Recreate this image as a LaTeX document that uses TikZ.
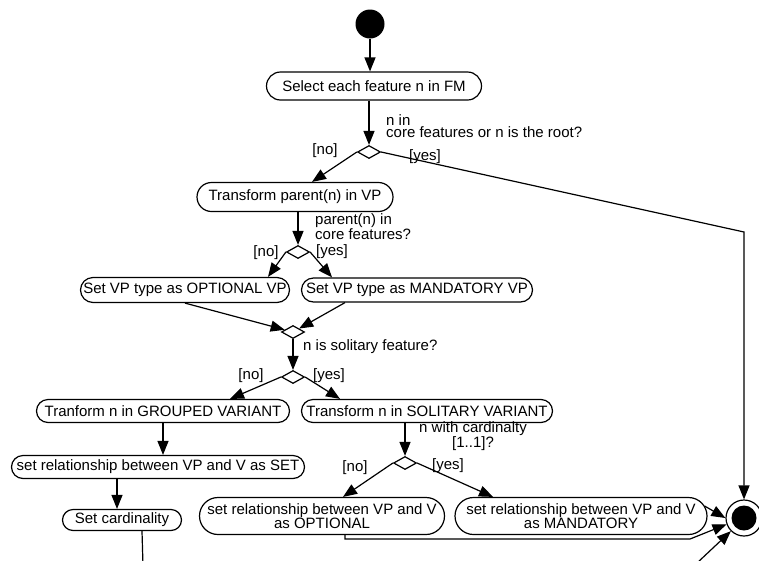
\documentclass[tikz,border=0pt]{standalone}
\usepackage{fontspec}
\setmainfont{Liberation Sans}
\usetikzlibrary{shapes.misc,shapes.geometric,arrows.meta}
\begin{document}
\begin{tikzpicture}[x=1pt,y=-1pt,
  every node/.style={font=\fontsize{15}{13}\selectfont},
  act/.style={draw, line width=1.2pt, rounded rectangle, inner sep=0pt, align=center},
  dec/.style={draw, line width=1.2pt, diamond, inner sep=0pt, minimum width=23pt, minimum height=13pt, fill=white},
  lbl/.style={inner sep=0pt, font=\fontsize{15}{12}\selectfont},
  flow/.style={line width=1.2pt, -{Triangle[length=14pt,width=11pt]}},
  plain/.style={line width=1.2pt}
]
\clip (0,0) rectangle (759,560);
\fill[white] (0,0) rectangle (759,560);

% start
\node[circle, fill, minimum size=29pt, inner sep=0pt] (start) at (370,24) {};
\node[act, minimum width=215pt, minimum height=28pt] (n1) at (374,86) {Select each feature n in FM};
\node[dec] (d1) at (369,152) {};
\node[lbl, anchor=base west, align=left] (q1) at (386,137) {n in\\core features or n is the root?};
\node[lbl] (no1) at (325,151) {[no]};
\node[lbl] (yes1) at (425,157) {[yes]};

\node[act, minimum width=196pt, minimum height=29pt] (n2) at (295,197) {Transform parent(n) in VP};
\node[dec] (d2) at (298,252) {};
\node[lbl, anchor=base west, align=left] (q2) at (315,239) {parent(n) in\\core features?};
\node[lbl] (no2) at (266,253) {[no]};
\node[lbl] (yes2) at (332,252) {[yes]};

\node[act, minimum width=209pt, minimum height=25pt] (n3) at (185,290) {Set VP type as OPTIONAL VP};
\node[act, minimum width=231pt, minimum height=24pt] (n4) at (417,290) {Set VP type as MANDATORY VP};
\node[dec] (d3) at (293,332) {};
\node[lbl, anchor=base west] (q3) at (303,350) {n is solitary feature?};
\node[dec] (d4) at (293,377) {};
\node[lbl] (no4) at (251,376) {[no]};
\node[lbl] (yes4) at (329,376) {[yes]};

\node[act, minimum width=253pt, minimum height=23pt] (n5) at (163,411) {Tranform n in GROUPED VARIANT};
\node[act, minimum width=251pt, minimum height=23pt] (n6) at (427,411) {Transform n in SOLITARY VARIANT};
\node[act, minimum width=293pt, minimum height=23pt] (n7) at (158,467) {set relationship between VP and V as SET};
\node[act, minimum width=119pt, minimum height=21pt] (n8) at (122,520) {Set cardinality};

\node[dec] (d5) at (405,463) {};
\node[lbl, anchor=base, align=center] (q5) at (473,447) {n with cardinalty\\{}[1..1]?};
\node[lbl] (no5) at (355,468) {[no]};
\node[lbl] (yes5) at (448,466) {[yes]};

\node[act, minimum width=245pt, minimum height=37pt] (n9) at (322,516) {set relationship between VP and V\\as OPTIONAL};
\node[act, minimum width=252pt, minimum height=37pt] (n10) at (581,516) {set relationship between VP and V\\as MANDATORY};

% end
\node[circle, draw, line width=1.2pt, minimum size=36pt, inner sep=0pt, fill=white] (end) at (744,518) {};
\node[circle, fill, minimum size=25pt, inner sep=0pt] (endin) at (end) {};

\coordinate (c1) at (744,232);
\coordinate (c2) at (690,539);
\coordinate (c3) at (697,563);
\coordinate (c4) at (143,566);
\path ([xshift=-5pt]n8.north) coordinate (n8t);

% connectors
\draw[flow] (start) -- (start |- n1.north);
\draw[flow] (n1.south -| d1) -- (d1.north);
\draw[flow] (d1.west) -- ([xshift=17pt]n2.north);
\draw[flow] (d1.east) -- (c1) -- (end.north);
\draw[flow] (n2.south -| d2) -- (d2.north);
\draw[flow] (d2.west) -- ([xshift=83pt]n3.north);
\draw[flow] (d2.east) -- ([xshift=-85pt]n4.north);
\draw[flow] (n3.south) -- (d3);
\draw[flow] ([xshift=-72pt]n4.south) -- (d3);
\draw[flow] (d3.south) -- (d4.north);
\draw[flow] (d4.west) -- ([xshift=67pt]n5.north);
\draw[flow] (d4.east) -- ([xshift=-87pt]n6.north);
\draw[flow] (n5.south) -- (n5.south |- n7.north);
\draw[flow] (n7.south -| n8t) -- (n8t);
\draw[plain] ([xshift=20pt]n8.south) -- (c4);
\draw[flow] (n6.south -| d5) -- (d5.north);
\draw[flow] (d5.west) -- ([xshift=21pt]n9.north);
\draw[flow] (d5.east) -- ([xshift=-88pt]n10.north);
\draw[flow] ([shift={(-3pt,10pt)}]n10.east) -- (end.west);
\draw[flow] ([xshift=23pt]n9.south) |- (c2) -- (end.200);
\draw[flow] (c3) -- (end.225);
\end{tikzpicture}
\end{document}
